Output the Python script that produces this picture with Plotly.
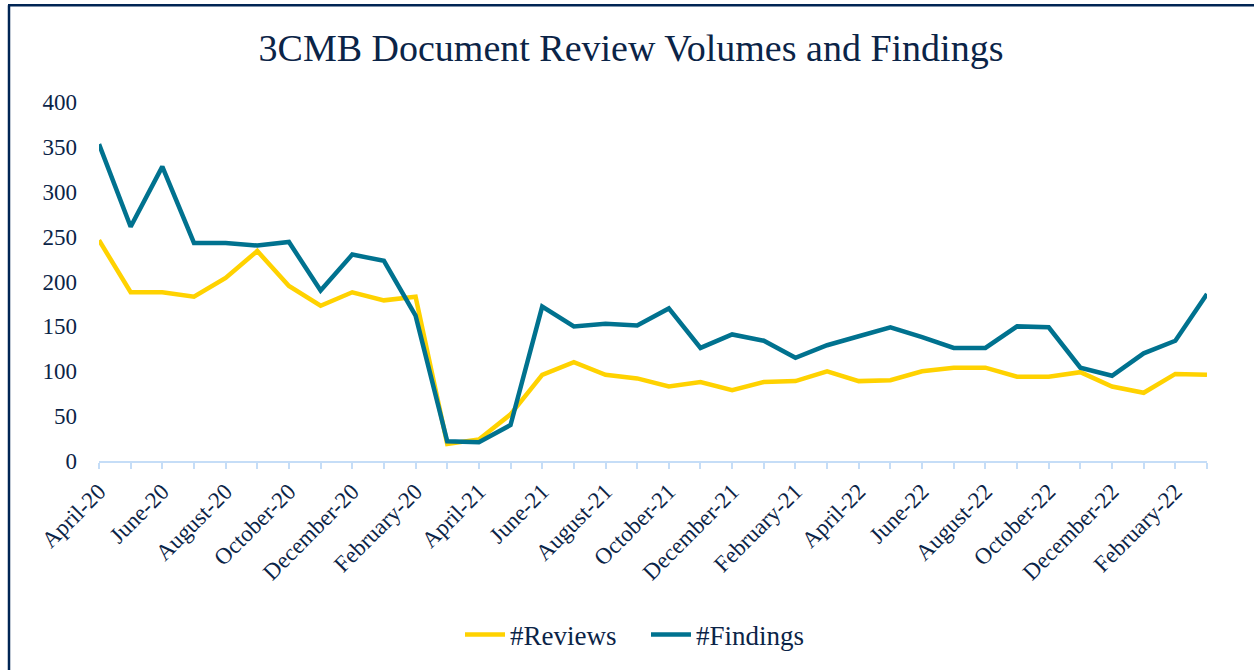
import plotly.graph_objects as go

months = ["April-20", "May-20", "June-20", "July-20", "August-20", "September-20",
          "October-20", "November-20", "December-20", "January-20", "February-20", "March-20",
          "April-21", "May-21", "June-21", "July-21", "August-21", "September-21",
          "October-21", "November-21", "December-21", "January-21", "February-21", "March-21",
          "April-22", "May-22", "June-22", "July-22", "August-22", "September-22",
          "October-22", "November-22", "December-22", "January-22", "February-22", "March-22"]

reviews = [246, 188, 188, 183, 204, 234, 195, 173, 188, 179, 183, 19,
           24, 52, 96, 110, 96, 92, 83, 88, 79, 88, 89, 100,
           89, 90, 100, 104, 104, 94, 94, 99, 83, 76, 97, 96]

findings = [353, 261, 328, 243, 243, 240, 244, 190, 230, 223, 162, 22,
            21, 40, 172, 150, 153, 151, 170, 126, 141, 134, 115, 129,
            139, 149, 138, 126, 126, 150, 149, 104, 95, 120, 134, 186]

tick_text = [m if i % 2 == 0 else "" for i, m in enumerate(months)]

NAVY = "#0B2447"
FONT = "Liberation Serif"

fig = go.Figure()
fig.add_trace(go.Scatter(x=months, y=reviews, mode="lines", name="#Reviews",
                         line=dict(color="#FFD200", width=4.5)))
fig.add_trace(go.Scatter(x=months, y=findings, mode="lines", name="#Findings",
                         line=dict(color="#00728F", width=4.5)))

L, R, T, B = 99, 47, 102, 208
W, H = 1254, 670
pw, ph = W - L - R, H - T - B

def px_x(p):
    return (p - L) / pw

def px_y(p):
    return (H - B - p) / ph

fig.update_layout(
    width=W, height=H,
    margin=dict(l=L, r=R, t=T, b=B),
    paper_bgcolor="white", plot_bgcolor="white",
    font=dict(family=FONT, color=NAVY),
    title=dict(text="3CMB Document Review Volumes and Findings",
               font=dict(family=FONT, size=38, color=NAVY),
               x=631 / W, xanchor="center", xref="container",
               y=1 - 48 / H, yanchor="middle", yref="container"),
    showlegend=True,
    legend=dict(orientation="h", x=px_x(460), xanchor="left",
                y=px_y(635), yanchor="middle",
                font=dict(family=FONT, size=27, color=NAVY),
                entrywidth=131, entrywidthmode="pixels",
                itemwidth=40, tracegroupgap=0, bgcolor="rgba(0,0,0,0)"),
    xaxis=dict(type="category", range=[0, len(months) - 1],
               tickmode="array", tickvals=months, ticktext=tick_text,
               tickangle=-45, tickfont=dict(family=FONT, size=23, color=NAVY),
               showline=True, linecolor="#C5DDF7", linewidth=2,
               ticks="outside", ticklen=6, tickcolor="#C5DDF7", tickwidth=2,
               showgrid=False, zeroline=False),
    yaxis=dict(range=[0, 400], tickvals=[0, 50, 100, 150, 200, 250, 300, 350, 400],
               tickfont=dict(family=FONT, size=23, color=NAVY),
               showgrid=False, zeroline=False, showline=False, ticks="",
               ticklabelstandoff=21),
    shapes=[
        dict(type="line", xref="paper", yref="paper",
             x0=px_x(9), x1=px_x(9), y0=px_y(H + 5), y1=px_y(5),
             line=dict(color="#002554", width=2.5)),
        dict(type="line", xref="paper", yref="paper",
             x0=px_x(8), x1=px_x(W + 5), y0=px_y(5), y1=px_y(5),
             line=dict(color="#002554", width=2.5)),
    ],
)

fig.write_html("out.html", config={"displayModeBar": False},
               post_script="document.body.style.margin='0';document.body.style.overflow='hidden';")
